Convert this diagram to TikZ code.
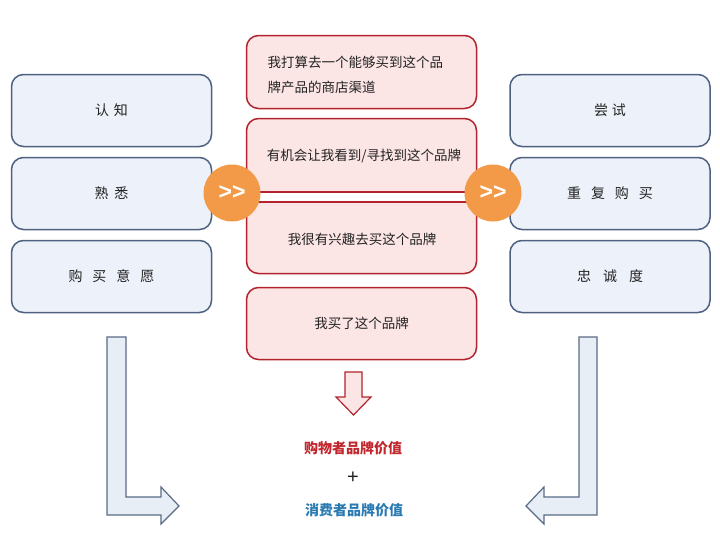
\documentclass[tikz,border=0pt]{standalone}
\usepackage{fontspec}
\setmainfont{Noto Sans CJK SC}
\newfontfamily\latinsans{Liberation Sans}
\definecolor{bluefill}{HTML}{EDF1F9}
\definecolor{blueline}{HTML}{4E6180}
\definecolor{redfill}{HTML}{FCE5E5}
\definecolor{redline}{HTML}{B3232D}
\definecolor{orangec}{HTML}{F39A48}
\definecolor{txt}{HTML}{222222}
\definecolor{valred}{HTML}{C2272D}
\definecolor{valblue}{HTML}{2A7AB2}
\definecolor{arrowfill}{HTML}{E8EEF6}
\definecolor{arrowline}{HTML}{5A6B86}
\tikzset{
  stagebox/.style={draw=blueline, fill=bluefill, line width=1.5pt, rounded corners=12pt,
    minimum width=200pt, minimum height=72pt, text=txt, font=\fontsize{14}{16}\selectfont},
  midbox/.style={draw=redline, fill=redfill, line width=1.5pt, rounded corners=12pt,
    minimum width=230pt, text=txt, font=\fontsize{13.5}{25}\selectfont},
  circ/.style={circle, fill=orangec, minimum size=57pt, inner sep=0pt, text=white,
    font=\latinsans\bfseries\fontsize{23}{23}\selectfont},
  barbox/.style={draw=redline, fill=white, line width=2pt, minimum width=260pt, minimum height=10pt, inner sep=0pt},
  blockarrow/.style={line width=1.2pt, line join=miter}
}
\begin{document}
\begin{tikzpicture}[x=1pt,y=-1pt]
\useasboundingbox (0,0) rectangle (720,554);
\fill[white] (0,0) rectangle (720,554);
% left column
\node[stagebox] (l1) at (111.5,110.5) {认\hspace{5pt}知};
\node[stagebox] (l2) at (111.5,193.5) {熟\hspace{6pt}悉};
\node[stagebox] (l3) at (111.5,276.5) {购\hspace{10pt}买\hspace{10pt}意\hspace{10pt}愿};
% right column
\node[stagebox] (r1) at (610,110.5) {尝\hspace{4pt}试};
\node[stagebox] (r2) at (610,193.5) {重\hspace{10pt}复\hspace{10pt}购\hspace{10pt}买};
\node[stagebox] (r3) at (610,276.5) {忠\hspace{12pt}诚\hspace{12pt}度};
% middle column
\node[midbox, minimum height=73pt] (m1) at (361.5,72) {};
\node[anchor=west, text=txt, font=\fontsize{13.5}{25}\selectfont, align=left] (m1t) at (264,74.5)
  {我打算去一个能够买到这个品\\牌产品的商店渠道};
\node[midbox, minimum height=155pt] (m2) at (361.5,196) {};
\node[text=txt, font=\fontsize{13.5}{16}\selectfont] (m2a) at (364,156) {有机会让我看到/寻找到这个品牌};
\node[text=txt, font=\fontsize{13.5}{16}\selectfont] (m2b) at (362,239) {我很有兴趣去买这个品牌};
\node[midbox, minimum height=72pt] (m4) at (361.5,323.5) {我买了这个品牌};
% connector bar and circles
\node[barbox] (bar) at (362.5,196.5) {};
\node[circ] (cl) at (232,193) {>>};
\node[circ] (cr) at (493,193) {>>};
% red down arrow
\draw[blockarrow, draw=redline, fill=redfill]
  (345,372) -- (362,372) -- (362,397) -- (371,397) -- (353.5,415) -- (336,397) -- (345,397) -- cycle;
% bottom texts
\node[text=valred, font=\bfseries\fontsize{14}{16}\selectfont] (v1) at (353,448) {购物者品牌价值};
\node[text=txt, font=\latinsans\fontsize{20}{20}\selectfont] (plus) at (353,478) {+};
\node[text=valblue, font=\bfseries\fontsize{14}{16}\selectfont] (v2) at (354,510) {消费者品牌价值};
% L arrows
\draw[blockarrow, draw=arrowline, fill=arrowfill]
  (107,337) -- (126,337) -- (126,497) -- (161,497) -- (161,487) -- (179,506) -- (161,524) -- (161,515) -- (107,515) -- cycle;
\draw[blockarrow, draw=arrowline, fill=arrowfill]
  (597,337) -- (579,337) -- (579,497) -- (544,497) -- (544,487) -- (526,506) -- (544,524) -- (544,515) -- (597,515) -- cycle;
\end{tikzpicture}
\end{document}
